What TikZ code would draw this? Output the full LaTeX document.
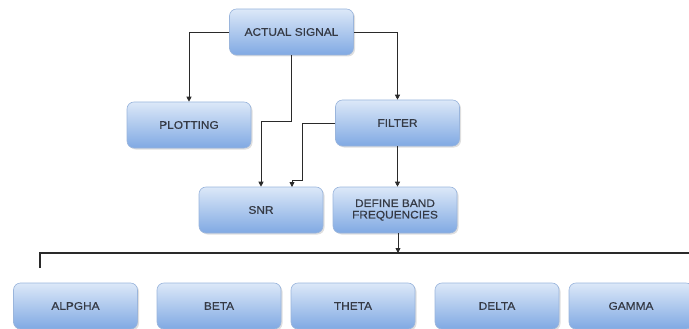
\documentclass[tikz,border=0pt]{standalone}
\usepackage{fontspec}
\setmainfont{Liberation Sans}
\newfontfamily\boxfont[FakeStretch=1.08,FakeBold=0.6]{Liberation Sans}
\usetikzlibrary{arrows.meta,shadows,calc}
\definecolor{boxtop}{HTML}{DCE8F8}
\definecolor{boxbot}{HTML}{80A9E3}
\definecolor{boxline}{HTML}{9AB5DC}
\definecolor{txt}{HTML}{353A45}
\definecolor{wire}{HTML}{2A2A2A}
\tikzset{
  blockbox/.style={rounded corners=7pt, top color=boxtop, bottom color=boxbot,
    draw=boxline, line width=0.6pt, minimum width=124pt, minimum height=46pt,
    inner sep=0pt, align=center, text=txt, font=\boxfont\fontsize{11}{11.5}\selectfont,
    drop shadow={shadow xshift=1.5pt, shadow yshift=-1.5pt, opacity=0.25}},
  arr/.style={draw=wire, line width=0.8pt, -{Triangle[length=5pt,width=5pt]}},
  wireline/.style={draw=wire, line width=1.1pt}
}
\begin{document}
\begin{tikzpicture}[x=1pt,y=-1pt]
\useasboundingbox (0,0) rectangle (689,329);
\clip (0,0) rectangle (689,329);
\node[blockbox] (as) at (291.5,32) {ACTUAL SIGNAL};
\node[blockbox] (plot) at (189,125) {PLOTTING};
\node[blockbox] (filter) at (397.5,123) {FILTER};
\node[blockbox] (snr) at (261,210) {SNR};
\node[blockbox] (band) at (395,210) {DEFINE BAND\\FREQUENCIES};
\node[blockbox] (alpha) at (75.5,306) {ALPGHA};
\node[blockbox] (beta) at (219,306) {BETA};
\node[blockbox] (theta) at (353,306) {THETA};
\node[blockbox] (delta) at (497,306) {DELTA};
\node[blockbox] (gamma) at (631,306) {GAMMA};
\coordinate (snrin) at (292,187);
\coordinate (busin) at (398,253);
\coordinate (busL) at (40,268);
\coordinate (busR) at (689,253);
\draw[arr] (as.west) -| (plot.north);
\draw[arr] (as.east) -| (filter.north);
\draw[arr] (as.south) -- ++(0,66) -| (snr.north);
\draw[arr] (filter.west) -| ($(snrin)+(10,-7)$) -| (snrin);
\draw[arr] (filter.south) -- (filter.south |- band.north);
\draw[wireline] (busL) -- (busL |- busR) -- (busR);
\draw[arr] (busin |- band.south) -- (busin);
\end{tikzpicture}
\end{document}
